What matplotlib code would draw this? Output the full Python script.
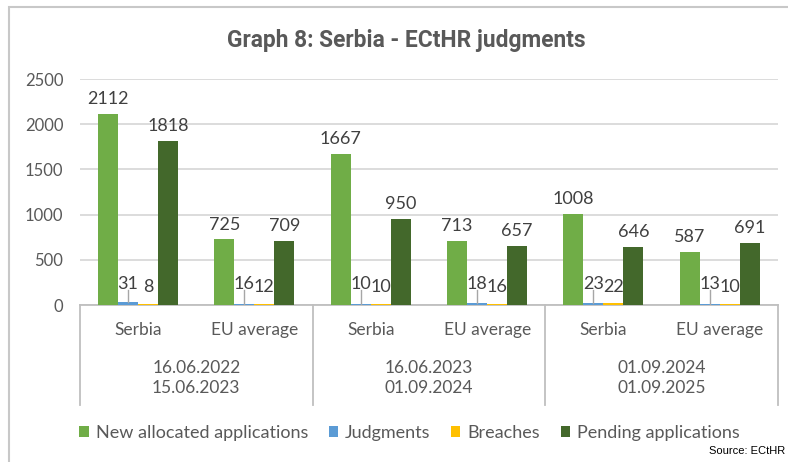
import matplotlib

matplotlib.use("Agg")
import matplotlib.pyplot as plt
from matplotlib.patches import Rectangle, Patch
from matplotlib.lines import Line2D

# data
periods = ["16.06.2022\n15.06.2023", "16.06.2023\n01.09.2024", "01.09.2024\n01.09.2025"]
entities = ["Serbia", "EU average"]
new_allocated = [2112, 725, 1667, 713, 1008, 587]
judgments = [31, 16, 10, 18, 23, 13]
breaches = [8, 12, 10, 16, 22, 10]
pending = [1818, 709, 950, 657, 646, 691]

series_names = ["New allocated applications", "Judgments", "Breaches", "Pending applications"]
colors = ["#70AD47", "#5B9BD5", "#FFC000", "#43682B"]

LABEL = "#404040"
AXIS = "#595959"
GRID = "#D9D9D9"

plt.rcParams["font.family"] = ["Lato", "DejaVu Sans"]

fig = plt.figure(figsize=(7.88, 4.62), dpi=100)
ax = fig.add_axes([80 / 788, 1 - 305 / 462, 698 / 788, 226 / 462])

# outer frame (cropped on right/bottom)
fig.patches.append(Rectangle((9 / 788, -0.1), 1.2, 1.1 - 7 / 462,
                             transform=fig.transFigure, fill=False,
                             edgecolor="#C8C8C8", lw=1.5, zorder=0))

n = len(new_allocated)
width = 0.172
offsets = [-0.259, -0.087, 0.085, 0.257]
all_series = [new_allocated, judgments, breaches, pending]
for s, vals in enumerate(all_series):
    xs = [i + 0.5 + offsets[s] for i in range(n)]
    ax.bar(xs, vals, width=width, color=colors[s], zorder=3)
    for x, v in zip(xs, vals):
        if s in (0, 3):
            ax.annotate(str(v), (x, v), xytext=(0, 5), textcoords="offset points",
                        ha="center", va="bottom", fontsize=13, color=LABEL)
        elif s == 1:
            ax.text(x, 232, str(v), ha="center", va="center", fontsize=13, color=LABEL)
            ax.plot([x, x], [v, 165], color="#A6A6A6", lw=1.0, zorder=4)
        else:
            ax.text(x, 199, str(v), ha="center", va="center", fontsize=13, color=LABEL)

ax.set_xlim(0, n)
ax.set_ylim(0, 2500)
ax.set_yticks(range(0, 2501, 500))
ax.tick_params(axis="y", length=0, pad=12, labelsize=12, labelcolor=AXIS)
ax.set_xticks([])
ax.grid(axis="y", color=GRID, lw=1.3, zorder=0)
for side in ("top", "right", "left"):
    ax.spines[side].set_visible(False)
ax.spines["bottom"].set_color("#BFBFBF")
ax.spines["bottom"].set_linewidth(1.3)

# multi-level category axis
tr = ax.get_xaxis_transform()
for i in range(n):
    ax.text(i + 0.5, -0.111, entities[i % 2], transform=tr, ha="center", va="center",
            fontsize=12.5, color=AXIS)
for j, p in enumerate(periods):
    ax.text(2 * j + 1, -0.323, p, transform=tr, ha="center", va="center",
            fontsize=12.5, color=AXIS, linespacing=1.3)
for j in range(len(periods) + 1):
    ax.add_line(Line2D([2 * j, 2 * j], [0, -0.442], transform=tr, color="#BFBFBF",
                       lw=1.3, clip_on=False))

fig.text(0.515, 1 - 40 / 462, "Graph 8: Serbia - ECtHR judgments", ha="center", va="center",
         fontsize=16.4, fontweight="bold", color=AXIS, family=["Roboto", "DejaVu Sans"])

handles = [Patch(facecolor=c) for c in colors]
fig.legend(handles, series_names, loc="center", bbox_to_anchor=(0.52, 1 - 433 / 462),
           ncol=4, frameon=False, fontsize=13, labelcolor=AXIS, handlelength=0.5,
           handleheight=0.5, handletextpad=0.4, columnspacing=1.15)

fig.text(785 / 788, 1 - 451 / 462, "Source: ECtHR", ha="right", va="center", fontsize=8,
         color="black", family=["Liberation Sans Narrow", "Liberation Sans", "DejaVu Sans"])

fig.savefig("out.png", dpi=100)
